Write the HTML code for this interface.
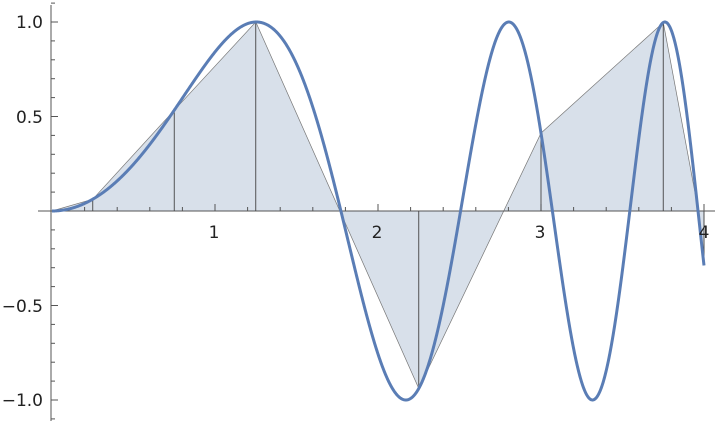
<!DOCTYPE html>
<html><head><meta charset="utf-8"><style>
html,body{margin:0;padding:0;background:#fff;}
svg{display:block;}
text{font-family:"DejaVu Sans","Liberation Sans",sans-serif;font-size:17px;fill:#222;}
</style></head><body>
<svg id="s" width="720" height="424" viewBox="0 0 720 424" xmlns="http://www.w3.org/2000/svg">
<g id="poly"></g>
<g id="axes" stroke="#555" stroke-width="1"></g>
<g id="verts" stroke="#444" stroke-width="0.9"></g>
<path id="curve" fill="none" stroke="#5a7db5" stroke-width="3"/>
<g id="labels">
<text x="214" y="238" text-anchor="middle">1</text>
<text x="377" y="238" text-anchor="middle">2</text>
<text x="540" y="238" text-anchor="middle">3</text>
<text x="704" y="238" text-anchor="middle">4</text>
<text x="43" y="28" text-anchor="end">1.0</text>
<text x="43" y="123" text-anchor="end">0.5</text>
<text x="43" y="312" text-anchor="end">−0.5</text>
<text x="43" y="406" text-anchor="end">−1.0</text>
</g>
</svg>
<script>
var X=function(x){return 52+163*x;},Y=function(y){return 211-189*y;};
var f=function(x){return Math.sin(x*x);};
var ns="http://www.w3.org/2000/svg";
function el(t,a,p){var e=document.createElementNS(ns,t);for(var k in a)e.setAttribute(k,a[k]);document.getElementById(p).appendChild(e);return e;}
var xs=[0,0.25,0.75,1.25,2.25,3,3.75,3.96,4];
var pts=xs.map(function(x){return X(x).toFixed(1)+","+Y(f(x)).toFixed(1);});
el("polygon",{points:X(0)+","+Y(0)+" "+pts.join(" ")+" "+X(4)+","+Y(0),fill:"#d8e0ea",stroke:"#777","stroke-width":"0.7"},"poly");
xs.forEach(function(x){if(x>0)el("line",{x1:X(x),y1:Y(0),x2:X(x),y2:Y(f(x))},"verts");});
el("line",{x1:38,y1:211,x2:715,y2:211},"axes");
el("line",{x1:51,y1:5,x2:51,y2:421},"axes");
for(var i=1;i<=20;i++){var x=i*0.2,big=(i%5==0);el("line",{x1:X(x),y1:211,x2:X(x),y2:211-(big?7:4)},"axes");}
for(var j=-11;j<=11;j++){if(j==0)continue;var y=j*0.1,big=(j%5==0);el("line",{x1:51,y1:Y(y),x2:51+(big?7:4),y2:Y(y)},"axes");}
var d="";for(var k=0;k<=1600;k++){var x=4*k/1600;d+=(k?"L":"M")+X(x).toFixed(2)+" "+Y(f(x)).toFixed(2);}
document.getElementById("curve").setAttribute("d",d);
</script>
</body></html>
